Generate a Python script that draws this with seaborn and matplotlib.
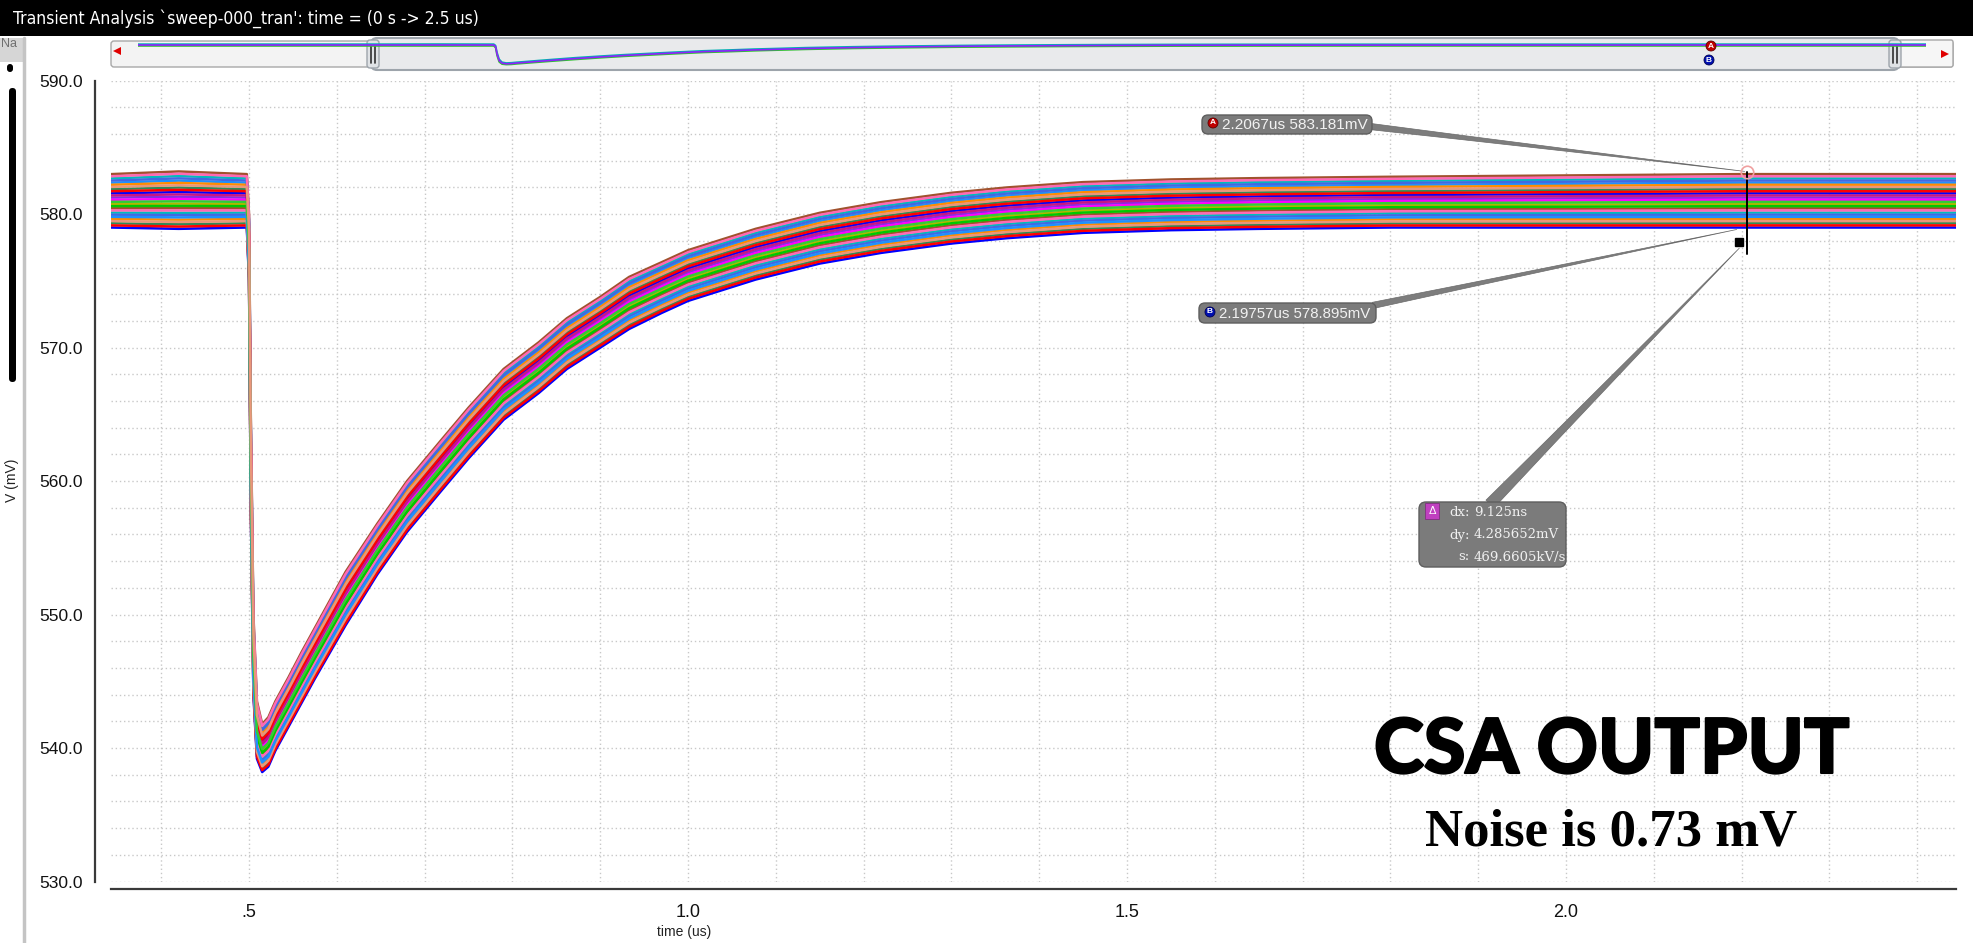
import matplotlib
matplotlib.use("Agg")
import numpy as np
import pandas as pd
import matplotlib.pyplot as plt
import seaborn as sns
from matplotlib import font_manager
from matplotlib import patheffects
from matplotlib.patches import FancyBboxPatch, Polygon
from matplotlib.lines import Line2D
from matplotlib.ticker import MultipleLocator, FixedLocator, FixedFormatter, FormatStrFormatter
from matplotlib.transforms import IdentityTransform

# waveform envelope (time in us, volts in mV)
t_us = [0.0, 0.343, 0.42, 0.4975, 0.500, 0.502, 0.505, 0.509, 0.515, 0.522, 0.530, 0.545,
        0.560, 0.575, 0.610, 0.646, 0.680, 0.718, 0.750, 0.790, 0.830, 0.862, 0.900, 0.933,
        0.970, 1.000, 1.077, 1.150, 1.220, 1.300, 1.363, 1.450, 1.550, 1.650, 1.800, 2.000,
        2.200, 2.444, 2.500]
v_upper = [583.0, 583.0, 583.2, 583.0, 580.0, 565.0, 550.0, 543.5, 541.8, 542.3, 543.5, 545.3,
           547.2, 549.0, 553.2, 556.8, 560.0, 563.0, 565.5, 568.4, 570.4, 572.2, 573.8, 575.3,
           576.4, 577.3, 578.9, 580.1, 580.9, 581.6, 582.0, 582.4, 582.6, 582.7, 582.8, 582.9,
           583.0, 583.0, 583.0]
v_lower = [579.0, 579.0, 578.9, 579.0, 575.0, 558.0, 544.0, 539.2, 538.2, 538.6, 539.8, 541.6,
           543.4, 545.2, 549.2, 553.0, 556.2, 559.2, 561.7, 564.6, 566.6, 568.4, 570.0, 571.4,
           572.6, 573.5, 575.1, 576.3, 577.1, 577.8, 578.2, 578.6, 578.8, 578.9, 579.0, 579.0,
           579.0, 579.0, 579.0]

# cursors
cursor_a = (2.2067, 583.181)
cursor_b = (2.19757, 578.895)
label_a = "2.2067us 583.181mV"
label_b = "2.19757us 578.895mV"
delta_lines = [("dx:", "9.125ns"), ("dy:", "4.285652mV"), ("s:", "469.6605kV/s")]

x_major = [0.5, 1.0, 1.5, 2.0]
x_major_labels = [".5", "1.0", "1.5", "2.0"]

title = "Transient Analysis `sweep-000_tran': time = (0 s -> 2.5 us)"

trace_colors = ["#0000ff", "#ff00ff", "#00c800", "#00bcbc", "#ff8c00", "#ff0000",
                "#8a2be2", "#b5b500", "#ff69b4", "#1e90ff", "#2e8b57", "#c71585",
                "#32cd32", "#a0522d", "#4169e1", "#e9967a"]
n_traces = 26

W, H = 1974, 943

sns.set_style("white")
fonts = font_manager.fontManager.ttflist
names = {f.name for f in fonts}
narrow = "Liberation Sans Narrow" if "Liberation Sans Narrow" in names else "Liberation Sans"
cond = any(f.name == "DejaVu Sans" and "condensed" in str(f.stretch) for f in fonts)
heavy = "Lato" if "Lato" in names else "Open Sans"
plt.rcParams["font.family"] = ["Liberation Sans", "DejaVu Sans"]

fig = plt.figure(figsize=(W / 100, H / 100), dpi=100)
fig.patch.set_facecolor("white")


def pbox(x0, y0, x1, y1, fc, ec="none", lw=1.0, r=0, z=-1):
    style = "round,pad=0,rounding_size=%g" % r if r else "square,pad=0"
    p = FancyBboxPatch((x0, H - y1), x1 - x0, y1 - y0, boxstyle=style, fc=fc, ec=ec,
                       lw=lw, transform=IdentityTransform(), zorder=z)
    fig.add_artist(p)
    return p


def pline(xs, ys, color, lw=1.0, z=-1):
    fig.add_artist(Line2D(xs, [H - y for y in ys], color=color, lw=lw,
                          transform=IdentityTransform(), zorder=z))


def ptext(x, y, s, **kw):
    return fig.text(x / W, 1 - y / H, s, **kw)


# ---- main plot ----
ax = fig.add_axes([111 / W, 1 - 881.5 / H, 1845 / W, 800.8 / H])
ax.set_facecolor("none")

t = np.array(t_us)
lo = np.array(v_lower)
hi = np.array(v_upper)
frames = []
for k in range(n_traces):
    frac = k / (n_traces - 1)
    frames.append(pd.DataFrame({"t": t, "v": lo + frac * (hi - lo), "trace": k}))
df = pd.concat(frames, ignore_index=True)
order = [(k * 7) % n_traces for k in range(n_traces)]
pal = {k: trace_colors[(k * 5) % len(trace_colors)] for k in range(n_traces)}
sns.lineplot(data=df, x="t", y="v", hue="trace", hue_order=order, palette=pal,
             estimator=None, sort=False, lw=1.8, legend=False, ax=ax)

ax.set_xlim(0.3428, 2.4442)
ax.set_ylim(530, 590)
ax.xaxis.set_major_locator(FixedLocator(x_major))
ax.xaxis.set_major_formatter(FixedFormatter(x_major_labels))
ax.xaxis.set_minor_locator(MultipleLocator(0.1))
ax.yaxis.set_major_locator(MultipleLocator(10))
ax.yaxis.set_minor_locator(MultipleLocator(2))
ax.yaxis.set_major_formatter(FormatStrFormatter("%.1f"))
ax.grid(which="both", color="#c8c8c8", linestyle=(0, (1, 2)), lw=1)
for s in ["top", "right"]:
    ax.spines[s].set_visible(False)
ax.spines["left"].set_position(("outward", 11.5))
ax.spines["bottom"].set_position(("outward", 5.4))
for s in ["left", "bottom"]:
    ax.spines[s].set_color("#3a3a3a")
    ax.spines[s].set_linewidth(1.6)
ax.tick_params(axis="y", which="major", length=6.5, width=1.2, color="#3a3a3a", pad=2,
               labelsize=12.5, labelcolor="#111111")
ax.tick_params(axis="y", which="minor", length=3.6, width=1.2, color="#3a3a3a")
ax.tick_params(axis="x", which="both", length=5, width=1.2, color="#3a3a3a", pad=6,
               labelsize=14 if narrow != "Liberation Sans" else 13, labelcolor="#111111")
for lab in ax.get_xticklabels():
    lab.set_family(narrow)
ax.set_xlabel("")
ax.set_ylabel("")

# cursor marks
ax.plot([cursor_a[0], cursor_a[0]], [cursor_a[1], 577.0], color="black", lw=1.4, zorder=5)
ax.plot([cursor_a[0]], [cursor_a[1]], marker="o", ms=9, mfc="none", mec="#f0a0a0", mew=1.2, zorder=6)
ax.plot([cursor_b[0]], [577.9], marker="s", ms=6, color="black", zorder=6)

wedge_kw = dict(fc="#7d7d7d", ec="#6a6a6a", lw=0.5)
ax.annotate("", xy=cursor_a, xytext=(1366, H - 126), textcoords="figure pixels",
            arrowprops=dict(arrowstyle="wedge,tail_width=0.45,shrink_factor=0.4", **wedge_kw), zorder=4)
ax.annotate("", xy=cursor_b, xytext=(1370, H - 306), textcoords="figure pixels",
            arrowprops=dict(arrowstyle="wedge,tail_width=0.45,shrink_factor=0.4", **wedge_kw), zorder=4)
ax.annotate("", xy=(cursor_b[0] + 0.002, 577.6), xytext=(1488, H - 506), textcoords="figure pixels",
            arrowprops=dict(arrowstyle="wedge,tail_width=0.8,shrink_factor=0.4", **wedge_kw), zorder=4)

# label boxes
pbox(1202, 115, 1372, 134, "#7b7b7b", ec="#5e5e5e", r=6, z=2)
ptext(1213, 123, "A", color="white", fontsize=6, fontweight="bold", ha="center", va="center",
      bbox=dict(boxstyle="circle,pad=0.18", fc="#c00000", ec="#600000", lw=0.6), zorder=3)
ta = ptext(1222, 125, label_a, color="#f2f2f2", fontsize=11, va="center", zorder=3)
pbox(1199, 303, 1376, 323, "#7b7b7b", ec="#5e5e5e", r=6, z=2)
ptext(1210, 312, "B", color="white", fontsize=6, fontweight="bold", ha="center", va="center",
      bbox=dict(boxstyle="circle,pad=0.18", fc="#0010b0", ec="#000050", lw=0.6), zorder=3)
tb = ptext(1219, 313.5, label_b, color="#f2f2f2", fontsize=11, va="center", zorder=3)

pbox(1419, 502, 1566, 567, "#7b7b7b", ec="#5e5e5e", r=7, z=2)
ptext(1432, 511, "\u0394", color="white", fontsize=8, ha="center", va="center",
      bbox=dict(boxstyle="square,pad=0.25", fc="#c040c0", ec="#803080", lw=0.6), zorder=3)
for i, (k, v) in enumerate(delta_lines):
    y = 513 + i * 22
    ptext(1470, y, k, color="#f0f0f0", fontsize=9.5, family="DejaVu Serif", ha="right",
          va="center", zorder=3)
    ptext(1474, y, v, color="#f0f0f0", fontsize=9.5, family="DejaVu Serif", ha="left",
          va="center", zorder=3)

# big captions
t_csa = ptext(1612, 773, "CSA OUTPUT", family=heavy, fontweight="black", fontsize=60,
              ha="center", va="baseline", color="black", zorder=3,
              path_effects=[patheffects.withStroke(linewidth=1.5, foreground="black")])
t_noise = ptext(1611, 846, "Noise is 0.73 mV", family="Liberation Serif", fontweight="bold",
                fontsize=40, ha="center", va="baseline", color="black", zorder=3)

# axis titles
ptext(12, 480, "V (mV)", rotation=90, fontsize=10, ha="center", va="center", color="#222222")
ptext(684, 932, "time (us)", fontsize=10, ha="center", va="center", color="#222222")

# ---- overview strip ----
pbox(111, 41, 1953, 67, "#f3f3f3", ec="#a8a8a8", lw=1.0, r=3, z=-2)
pbox(371, 38, 1899, 70, "#e9eaec", ec="#9da4ab", lw=1.5, r=6, z=-1)
pbox(1899, 40, 1953, 67, "#f6f6f6", ec="#a8a8a8", lw=1.0, r=2, z=-1)
for gx in (371, 1893):
    pbox(gx - 4, 40, gx + 8, 68, "#dfe2e5", ec="#9da4ab", lw=1.0, r=3, z=-1)
    pline([gx, gx], [45, 63], "#303030", lw=1.2)
    pline([gx + 4, gx + 4], [45, 63], "#303030", lw=1.2)
fig.add_artist(Polygon([[113, H - 51], [121, H - 47], [121, H - 55]], closed=True, fc="#e00000",
                       ec="none", transform=IdentityTransform(), zorder=1))
fig.add_artist(Polygon([[1949, H - 54], [1941, H - 50], [1941, H - 58]], closed=True, fc="#e00000",
                       ec="none", transform=IdentityTransform(), zorder=1))

ov = fig.add_axes([138 / W, 1 - 69 / H, 1788 / W, 29 / H])
ov.set_facecolor("none")
ov.axis("off")
ov_df = pd.DataFrame({"t": t_us * 3, "v": v_upper + v_lower + list((lo + hi) / 2),
                      "trace": ["u"] * len(t_us) + ["l"] * len(t_us) + ["m"] * len(t_us)})
sns.lineplot(data=ov_df, x="t", y="v", hue="trace", hue_order=["u", "l", "m"],
             palette={"u": "#00b0b0", "l": "#30c030", "m": "#9020ff"},
             estimator=None, sort=False, lw=1.2, legend=False, ax=ov)
ov.set_xlim(0, 2.5)
ov.set_ylim(528.6, 592)
ptext(1711, 46, "A", color="white", fontsize=6, fontweight="bold", ha="center", va="center",
      bbox=dict(boxstyle="circle,pad=0.18", fc="#c00000", ec="#600000", lw=0.6), zorder=3)
ptext(1709, 60, "B", color="white", fontsize=6, fontweight="bold", ha="center", va="center",
      bbox=dict(boxstyle="circle,pad=0.18", fc="#0010b0", ec="#000050", lw=0.6), zorder=3)

# ---- window chrome ----
pbox(0, 0, W, 36, "black", z=-1)
if cond:
    tt = ptext(13, 19, title, color="white", family="DejaVu Sans", fontstretch="condensed",
               fontsize=15, va="center")
else:
    tt = ptext(13, 19, title, color="white", family=narrow, fontsize=15, va="center")
pbox(0, 38, 23, 62, "#d6d6d6", z=-1)
ptext(1, 44, "Na", color="#707070", fontsize=9, va="center")
pline([24, 24], [38, H], "#c4c4c4", lw=2.5)
pbox(7, 64, 13, 72, "black", r=3, z=-1)
pbox(9, 88, 16, 382, "black", r=3.5, z=-1)

# fit text widths to the screenshot
renderer = fig.canvas.get_renderer()
for txt, width in [(tt, 470), (ta, 146), (tb, 150), (t_csa, 476), (t_noise, 372)]:
    bb = txt.get_window_extent(renderer)
    txt.set_fontsize(txt.get_fontsize() * width / bb.width)

fig.savefig("out.png", dpi=100)
